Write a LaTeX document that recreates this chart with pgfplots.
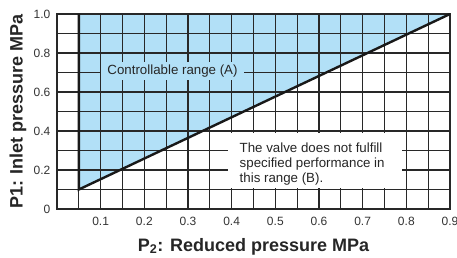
\documentclass[border=0pt]{standalone}
\usepackage{fontspec}
\setmainfont{Liberation Sans}
\usepackage{pgfplots}
\pgfplotsset{compat=1.18}
\definecolor{ctrlblue}{RGB}{178,224,247}
\definecolor{gridc}{RGB}{40,40,40}
\begin{document}
\begin{tikzpicture}
\begin{axis}[
  set layers,
  at={(0pt,0pt)}, anchor=south west,
  scale only axis, width=393pt, height=195pt,
  xmin=0, xmax=0.9, ymin=0, ymax=1,
  xtick={0.1,0.2,0.3,0.4,0.5,0.6,0.7,0.8,0.9},
  xticklabels={0.1,0.2,0.3,0.4,0.5,0.6,0.7,0.8,0.9},
  minor xtick={0,0.05,0.15,0.25,0.35,0.45,0.55,0.65,0.75,0.85},
  ytick={0,0.2,0.4,0.6,0.8,1.0},
  yticklabels={0,0.2,0.4,0.6,0.8,1.0},
  minor ytick={0.1,0.3,0.5,0.7,0.9},
  grid=both,
  major grid style={gridc, line width=1.1pt},
  minor grid style={gridc, line width=1.1pt},
  major tick length=0pt, minor tick length=0pt,
  axis line style={gridc, line width=1.1pt},
  tick label style={font=\fontsize{12}{14}\selectfont, text=black!80},
  xticklabel style={anchor=base, inner sep=0pt, yshift=-16pt},
  yticklabel style={anchor=east, inner sep=0pt, xshift=-6.5pt},
  xlabel={P\textsubscript{2}: Reduced pressure MPa},
  ylabel={P1: Inlet pressure MPa},
  label style={font=\fontsize{18}{20}\selectfont\bfseries, text=black!85},
  xlabel style={at={(axis description cs:0.5,-0.2154)}, anchor=base, inner sep=0pt},
  ylabel style={at={(axis description cs:-0.0873,0.5)}, anchor=base, inner sep=0pt},
]
\addplot[fill=ctrlblue, draw=none, on layer=axis background] coordinates {(0.05,0.1) (0.9,1.0) (0.05,1.0) (0.05,0.1)};
\addplot[black!90, line width=2.4pt] coordinates {(0.05,1.0) (0.05,0.1) (0.9,1.0)};
\fill[white] (axis cs:0.392,0.11) rectangle (axis cs:0.79,0.39);
\node[anchor=north west, inner sep=0pt, align=left, font=\fontsize{13.3}{15}\selectfont, text=black!85] at (axis cs:0.418,0.339) {The valve does not fulfill\\specified performance in\\this range (B).};
\node[anchor=base, fill=ctrlblue, inner xsep=6pt, inner ysep=2.5pt, font=\fontsize{13.3}{15}\selectfont, text=black!85] at (axis cs:0.2645,0.691) {Controllable range (A)};
\end{axis}
\pgfresetboundingbox
\path[use as bounding box] (-57pt,-48pt) rectangle (400pt,209pt);
\end{tikzpicture}
\end{document}
